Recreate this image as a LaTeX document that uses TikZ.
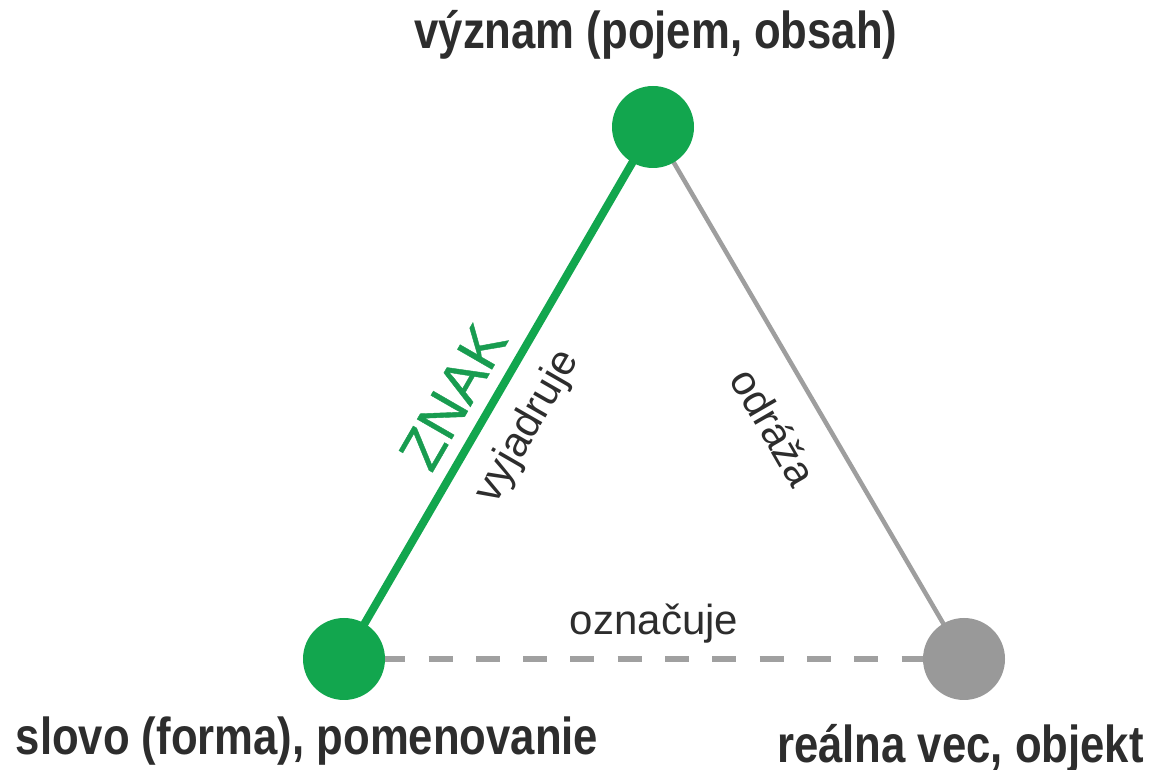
\documentclass[tikz,border=0pt]{standalone}
\usepackage{fontspec}
\setmainfont{Liberation Sans}
\newfontfamily\narrowfont[FakeStretch=0.84]{Liberation Sans}
\newfontfamily\signfont[FakeBold=0.7]{Liberation Sans}
\usetikzlibrary{backgrounds}
\definecolor{zgreen}{RGB}{18,166,78}
\definecolor{zgreentxt}{RGB}{24,156,80}
\definecolor{cgray}{RGB}{153,153,153}
\definecolor{lgray}{RGB}{158,158,158}
\definecolor{dgray}{RGB}{160,160,160}
\definecolor{txt}{RGB}{45,45,45}
\begin{document}
\begin{tikzpicture}[x=1pt,y=1pt,
  dot/.style={circle, minimum size=82pt, inner sep=0pt},
  biglab/.style={font=\narrowfont\bfseries\fontsize{52}{60}\selectfont, text=txt, inner sep=0pt, anchor=base},
  rellab/.style={font=\fontsize{42}{50}\selectfont, text=txt, inner sep=0pt},
  signlab/.style={font=\signfont\fontsize{58}{66}\selectfont, text=zgreentxt, inner sep=0pt}
]
\useasboundingbox (0,0) rectangle (1153,770);
\node[dot, fill=zgreen] (v) at (653,643) {};
\node[dot, fill=zgreen] (s) at (344,111) {};
\node[dot, fill=cgray] (r) at (964,111) {};
\begin{scope}[on background layer]
\draw[zgreen, line width=8pt] (s.center) -- (v.center);
\draw[lgray, line width=4.5pt] (v.center) -- (r.center);
\end{scope}
\draw[dgray, line width=6pt, dash pattern=on 24pt off 23.3pt, dash phase=4pt] (s) -- (r);
\node[biglab] (tv) at (656,721) {význam (pojem, obsah)};
\node[biglab] (ts) at (307,15) {slovo (forma), pomenovanie};
\node[biglab] (tr) at (960.5,7) {reálna vec, objekt};
\node[rellab, anchor=base] (l3) at (654,135) {označuje};
\node[rellab, rotate=60] (l1) at (528,343) {vyjadruje};
\node[rellab, rotate=-60] (l2) at (774,343) {odráža};
\node[signlab, rotate=60] (zn) at (453,373) {ZNAK};
\end{tikzpicture}
\end{document}
